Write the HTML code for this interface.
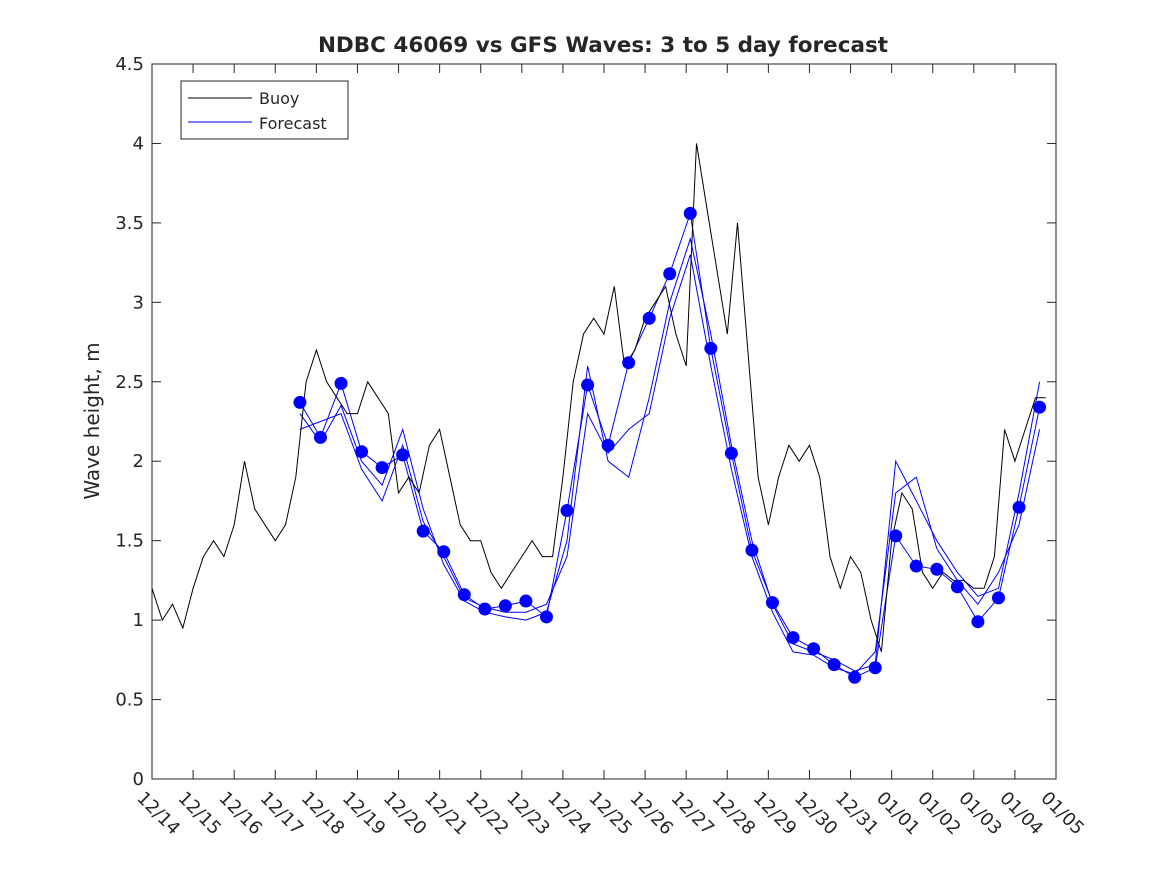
<!DOCTYPE html>
<html><head><meta charset="utf-8"><style>
body{margin:0;background:#fff;}
svg text{font-family:"DejaVu Sans","Liberation Sans",sans-serif;fill:#262626;}
</style></head><body>
<svg id="chart" width="1167" height="875">
<rect x="0" y="0" width="1167" height="875" fill="#fff"/>
<text x="603" y="52" text-anchor="middle" font-size="21.5" font-weight="bold" fill="#000">NDBC 46069 vs GFS Waves: 3 to 5 day forecast</text>
<text transform="translate(99,421) rotate(-90)" text-anchor="middle" font-size="20">Wave height, m</text>
<g id="axes"></g>
<g id="series"></g>
<g>
<rect x="181" y="81" width="167" height="58" fill="#fff" stroke="#262626" stroke-width="1"/>
<line x1="188" y1="98" x2="252" y2="98" stroke="#000"/>
<text x="259" y="104" font-size="16">Buoy</text>
<line x1="188" y1="122" x2="252" y2="122" stroke="#0000ff"/>
<text x="259" y="129" font-size="16">Forecast</text>
</g>
</svg>
<script>
const xTickLabels=["12/14","12/15","12/16","12/17","12/18","12/19","12/20","12/21","12/22","12/23","12/24","12/25","12/26","12/27","12/28","12/29","12/30","12/31","01/01","01/02","01/03","01/04","01/05"];
const yTicks=[0,0.5,1,1.5,2,2.5,3,3.5,4,4.5];
const buoyStart=0, buoyStep=0.25;
const buoy=[1.2,1.0,1.1,0.95, 1.2,1.4,1.5,1.4, 1.6,2.0,1.7,1.6, 1.5,1.6,1.9,2.5, 2.7,2.5,2.4,2.3, 2.3,2.5,2.4,2.3, 1.8,1.9,1.8,2.1, 2.2,1.9,1.6,1.5, 1.5,1.3,1.2,1.3, 1.4,1.5,1.4,1.4, 1.9,2.5,2.8,2.9, 2.8,3.1,2.6,2.7, 2.9,3.0,3.1,2.8, 2.6,4.0,3.6,3.2, 2.8,3.5,2.7,1.9, 1.6,1.9,2.1,2.0, 2.1,1.9,1.4,1.2, 1.4,1.3,1.0,0.8, 1.5,1.8,1.7,1.3, 1.2,1.3,1.25,1.25, 1.2,1.2,1.4,2.2, 2.0,2.2,2.4,2.4];
const fcStart=3.6, fcStep=0.5;
const forecastDots=[2.37,2.15,2.49,2.06,1.96,2.04,1.56,1.43,1.16,1.07,1.09,1.12,1.02,1.69,2.48,2.10,2.62,2.90,3.18,3.56,2.71,2.05,1.44,1.11,0.89,0.82,0.72,0.64,0.70,1.53,1.34,1.32,1.21,0.99,1.14,1.71,2.34];
const forecastRunA=[2.3,2.12,2.35,2.0,1.85,2.2,1.7,1.35,1.12,1.05,1.02,1.0,1.05,1.5,2.6,2.0,1.9,2.4,3.0,3.4,2.8,2.1,1.5,1.1,0.85,0.8,0.75,0.68,0.72,2.0,1.75,1.5,1.3,1.15,1.2,1.8,2.5];
const forecastRunB=[2.2,2.25,2.3,1.95,1.75,2.1,1.62,1.4,1.14,1.08,1.05,1.05,1.1,1.4,2.3,2.05,2.2,2.3,2.9,3.3,2.6,1.95,1.4,1.05,0.8,0.78,0.7,0.66,0.8,1.8,1.9,1.45,1.25,1.1,1.3,1.6,2.2];
const X0=152,X1=1056,Y0=779,Y1=64,DAYS=22,YMAX=4.5;
const xs=d=>X0+(X1-X0)*d/DAYS, ys=v=>Y0-(Y0-Y1)*v/YMAX;
const NS="http://www.w3.org/2000/svg";
const axes=document.getElementById('axes'), ser=document.getElementById('series');
function mk(t,a,p){const e=document.createElementNS(NS,t);for(const k in a)e.setAttribute(k,a[k]);p.appendChild(e);return e;}
const box=mk('rect',{x:X0,y:Y1,width:X1-X0,height:Y0-Y1,fill:'none',stroke:'#262626'},axes);


yTicks.forEach(v=>{const y=ys(v);
mk('line',{x1:X0,y1:y,x2:X0+9,y2:y,stroke:'#262626'},axes);
mk('line',{x1:X1,y1:y,x2:X1-9,y2:y,stroke:'#262626'},axes);
const t=mk('text',{x:X0-8,y:y+6,'text-anchor':'end','font-size':18},axes);t.textContent=String(v);

});
xTickLabels.forEach((l,i)=>{const x=xs(i);
mk('line',{x1:x,y1:Y0,x2:x,y2:Y0-9,stroke:'#262626'},axes);
mk('line',{x1:x,y1:Y1,x2:x,y2:Y1+9,stroke:'#262626'},axes);
const t=mk('text',{transform:`translate(${x-16},${Y0+20}) rotate(45)`,'font-size':18},axes);t.textContent=l;

});
function line(arr,start,step,color,name){const pts=arr.map((v,i)=>xs(start+i*step).toFixed(1)+','+ys(v).toFixed(1)).join(' ');
const p=mk('polyline',{points:pts,fill:'none',stroke:color,'stroke-width':1},ser);

}
line(forecastRunA,fcStart,fcStep,'#0000ff','forecast-run-a');
line(forecastRunB,fcStart,fcStep,'#0000ff','forecast-run-b');
line(forecastDots,fcStart,fcStep,'#0000ff','forecast-run-c');
line(buoy,buoyStart,buoyStep,'#000','buoy-line');
forecastDots.forEach((v,i)=>{const c=mk('circle',{cx:xs(fcStart+i*fcStep),cy:ys(v),r:6.5,fill:'#0000ff'},ser);

});
</script>
</body></html>
